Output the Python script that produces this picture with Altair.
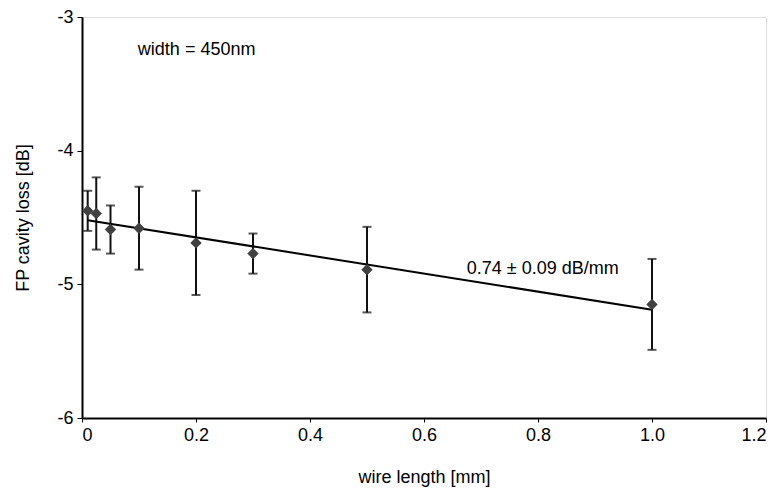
import altair as alt
import pandas as pd

# data
wire_length = [0.01, 0.025, 0.05, 0.1, 0.2, 0.3, 0.5, 1.0]
loss = [-4.45, -4.47, -4.59, -4.58, -4.69, -4.77, -4.89, -5.15]
err = [0.15, 0.27, 0.18, 0.31, 0.39, 0.15, 0.32, 0.34]

fit_x = [0.01, 1.0]
fit_y = [-4.52, -5.19]

notes_text = ["width = 450nm", "0.74 \u00b1 0.09 dB/mm"]
notes_x = [0.098, 0.675]
notes_y = [-3.245, -4.889]

df = pd.DataFrame({"x": wire_length, "y": loss, "e": err})
df["lo"] = df["y"] - df["e"]
df["hi"] = df["y"] + df["e"]
fit = pd.DataFrame({"x": fit_x, "y": fit_y})
notes = pd.DataFrame({"t": notes_text, "x": notes_x, "y": notes_y})

FONT = "Liberation Sans"
FS = 18

xscale = alt.Scale(domain=[0, 1.2], nice=False, zero=False)
yscale = alt.Scale(domain=[-6, -3], nice=False, zero=False)

xaxis = alt.Axis(
    title="wire length [mm]", values=[0, 0.2, 0.4, 0.6, 0.8, 1.0, 1.2],
    labelExpr="datum.value == 0 ? '0' : format(datum.value, '.1f')",
    grid=False, domainColor="black", domainWidth=2, tickColor="black",
    tickSize=4, tickWidth=1, labelFontSize=FS, labelColor="black",
    labelFont=FONT, titleFont=FONT, titleFontSize=FS, titleFontWeight="normal",
    titleColor="black", labelPadding=4, titlePadding=24,
)
yaxis = alt.Axis(
    title="FP cavity loss [dB]", values=[-6, -5, -4, -3],
    labelExpr="'' + datum.value",
    grid=False, domainColor="black", domainWidth=2, tickColor="black",
    tickSize=5, tickWidth=1, labelFontSize=FS, labelColor="black",
    labelFont=FONT, titleFont=FONT, titleFontSize=FS, titleFontWeight="normal",
    titleColor="black", labelPadding=4, titlePadding=24,
)

base = alt.Chart(df)

rules = base.mark_rule(color="#111111", strokeWidth=2).encode(
    x=alt.X("x:Q", scale=xscale, axis=xaxis),
    y=alt.Y("lo:Q", scale=yscale, axis=yaxis),
    y2="hi:Q",
)
caps_lo = base.mark_tick(color="#111111", orient="horizontal", size=9, thickness=2).encode(
    x=alt.X("x:Q", scale=xscale), y=alt.Y("lo:Q", scale=yscale)
)
caps_hi = base.mark_tick(color="#111111", orient="horizontal", size=9, thickness=2).encode(
    x=alt.X("x:Q", scale=xscale), y=alt.Y("hi:Q", scale=yscale)
)
line = alt.Chart(fit).mark_line(color="black", strokeWidth=2).encode(
    x=alt.X("x:Q", scale=xscale), y=alt.Y("y:Q", scale=yscale)
)
pts = base.mark_point(shape="diamond", filled=True, color="#404040", size=130, opacity=1).encode(
    x=alt.X("x:Q", scale=xscale), y=alt.Y("y:Q", scale=yscale)
)
txt = alt.Chart(notes).mark_text(align="left", baseline="middle", font=FONT, fontSize=FS, color="black").encode(
    x=alt.X("x:Q", scale=xscale), y=alt.Y("y:Q", scale=yscale), text="t:N"
)

chart = (
    alt.layer(rules, caps_lo, caps_hi, line, pts, txt)
    .properties(
        width=684, height=401,
        autosize=alt.AutoSizeParams(type="none"),
        padding={"left": 74, "top": 9, "right": 5, "bottom": 72},
    )
    .configure_view(stroke=None)
    .configure(background="white")
)

chart.save("out.html", embed_options={"renderer": "svg", "actions": False})
